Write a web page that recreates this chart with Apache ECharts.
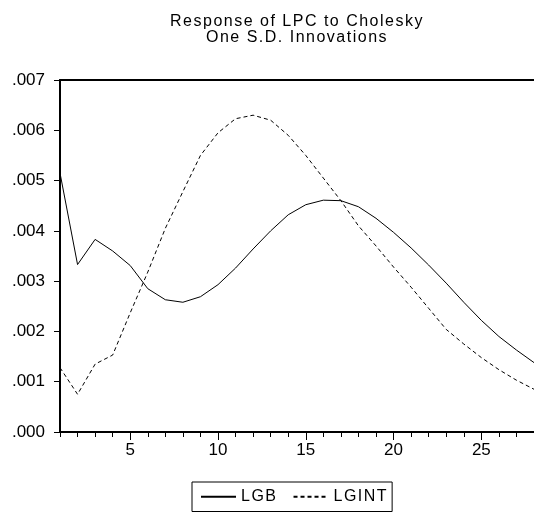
<!DOCTYPE html>
<html><head><meta charset="utf-8">
<script src="https://cdn.jsdelivr.net/npm/echarts@6/dist/echarts.min.js"></script>
<style>html,body{margin:0;padding:0;background:#fff}#c{width:534px;height:512px}</style>
</head><body><div id="c"></div>
<script>
// ---- data ----
const periods = [1,2,3,4,5,6,7,8,9,10,11,12,13,14,15,16,17,18,19,20,21,22,23,24,25,26,27,28];
const lgb = [0.00515,0.00333,0.00383,0.00360,0.00331,0.00285,0.00263,0.00258,0.00269,0.00293,
             0.00326,0.00364,0.00400,0.00432,0.00452,0.00461,0.00460,0.00448,0.00425,0.00397,
             0.00366,0.00332,0.00296,0.00258,0.00222,0.00190,0.00163,0.00138];
const lgint = [0.00128,0.00075,0.00135,0.00153,0.00237,0.00318,0.00405,0.00478,0.00550,0.00595,
               0.00623,0.00630,0.00620,0.00590,0.00550,0.00505,0.00460,0.00410,0.00370,0.00328,
               0.00288,0.00246,0.00204,0.00175,0.00148,0.00124,0.00103,0.00085];
const xTickLabels = [5,10,15,20,25];
const seriesNames = ['LGB','LGINT'];
const titleLines = ['Response of LPC to Cholesky','One S.D. Innovations'];

// wider letter spacing for text drawn in the "Liberation Sans" family (title, legend)
(function(){
  const d = Object.getOwnPropertyDescriptor(CanvasRenderingContext2D.prototype,'font');
  if (!d || !('letterSpacing' in CanvasRenderingContext2D.prototype)) return;
  Object.defineProperty(CanvasRenderingContext2D.prototype,'font',{
    configurable:true,
    get(){return d.get.call(this);},
    set(v){d.set.call(this,v); this.letterSpacing = /Liberation/.test(v) ? '1.5px' : '0px';}
  });
})();

const chart = echarts.init(document.getElementById('c'), null, {renderer:'canvas'});
const axisFont = 'Arial';
const spacedFont = 'Liberation Sans';
const black = '#000';

chart.setOption({
  animation:false,
  backgroundColor:'#fff',
  title:{
    text: titleLines.join('\n'),
    left: 297, top: 14, padding: 0, textAlign:'center',
    textStyle:{fontFamily:spacedFont, fontSize:16, fontWeight:'normal', color:black, lineHeight:16}
  },
  legend:{
    data: seriesNames,
    left:192, top:482, orient:'horizontal',
    padding:[6,4,6,8], itemGap:15, itemWidth:35, itemHeight:10,
    borderColor:black, borderWidth:1, borderRadius:0,
    itemStyle:{color:'transparent', borderWidth:0, opacity:0},
    textStyle:{fontFamily:spacedFont, fontSize:16, color:black}
  },
  grid:{left:60, right:0, top:80, bottom:80, containLabel:false},
  xAxis:[
    {type:'value', min:1, max:28, position:'bottom',
     axisLine:{show:true, lineStyle:{color:black, width:2}},
     axisTick:{show:true, customValues:periods, length:5, inside:false, lineStyle:{color:black, width:1}},
     axisLabel:{show:false}, splitLine:{show:false}},
    {type:'value', min:1, max:28, position:'bottom',
     axisLine:{show:false},
     axisTick:{show:true, customValues:xTickLabels, length:8, inside:false, lineStyle:{color:black, width:1}},
     axisLabel:{show:true, customValues:xTickLabels, margin:10, fontFamily:axisFont, fontSize:17, color:black},
     splitLine:{show:false}},
    {type:'value', min:1, max:28, position:'top',
     axisLine:{show:true, lineStyle:{color:black, width:2}},
     axisTick:{show:false}, axisLabel:{show:false}, splitLine:{show:false}}
  ],
  yAxis:{
    type:'value', min:0, max:0.007, interval:0.001,
    axisLine:{show:true, lineStyle:{color:black, width:2}},
    axisTick:{show:true, length:6, inside:false, lineStyle:{color:black, width:1}},
    axisLabel:{margin:15, fontFamily:axisFont, fontSize:17, color:black,
               formatter:v => v.toFixed(3).slice(1)},
    splitLine:{show:false}
  },
  series:[
    {name:seriesNames[0], type:'line', xAxisIndex:0, symbol:'none', smooth:false,
     lineStyle:{color:black, width:1, type:'solid'}, itemStyle:{color:black},
     data: periods.map((p,i)=>[p, lgb[i]])},
    {name:seriesNames[1], type:'line', xAxisIndex:0, symbol:'none', smooth:false,
     lineStyle:{color:black, width:1, type:[4,3]}, itemStyle:{color:black},
     data: periods.map((p,i)=>[p, lgint[i]])}
  ]
});
</script></body></html>
